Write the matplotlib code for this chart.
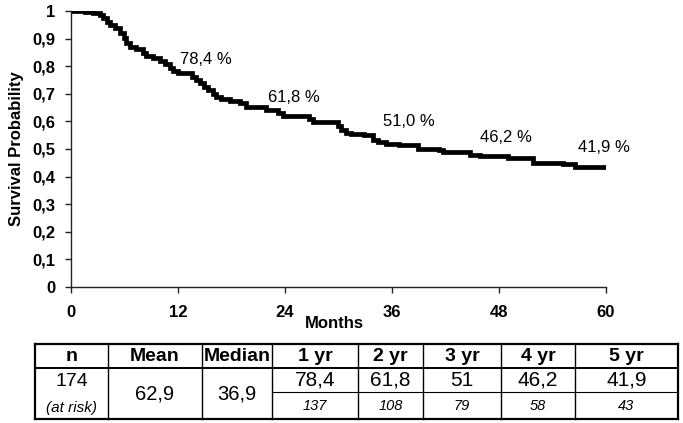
import matplotlib
matplotlib.use("Agg")
import matplotlib.pyplot as plt

plt.rcParams['font.family'] = ['Liberation Sans', 'DejaVu Sans']

#---------------------------------- data ----------------------------------
# Kaplan-Meier step curve (months, survival)
months = [0, 1.57, 2.5, 3.24, 3.6, 4.0, 4.36, 4.92, 5.48, 5.93, 6.22, 6.6,
          7.34, 8.09, 8.46, 9.2, 9.95, 10.5, 11.07, 11.44, 12.0, 13.6, 14.05,
          14.42, 14.87, 15.36, 15.91, 16.29, 16.85, 17.78, 18.9, 19.64, 21.88,
          23.18, 23.74, 26.72, 27.1, 29.89, 30.26, 30.83, 31.39, 32.89, 33.83,
          34.39, 35.33, 36.82, 38.89, 41.32, 41.7, 44.7, 45.82, 49.01, 51.82,
          55.2, 56.51, 60.0]
survival = [1.0, 0.996, 0.992, 0.985, 0.973, 0.961, 0.949, 0.937, 0.919, 0.901,
            0.883, 0.871, 0.861, 0.849, 0.837, 0.828, 0.819, 0.808, 0.794, 0.784,
            0.774, 0.762, 0.750, 0.738, 0.726, 0.713, 0.701, 0.689, 0.680, 0.675,
            0.665, 0.653, 0.641, 0.631, 0.619, 0.607, 0.599, 0.582, 0.570, 0.558,
            0.555, 0.549, 0.531, 0.525, 0.519, 0.515, 0.501, 0.495, 0.489, 0.480,
            0.475, 0.468, 0.450, 0.444, 0.434, 0.434]

ann_text = ['78,4 %', '61,8 %', '51,0 %', '46,2 %', '41,9 %']
ann_x = [12.2, 22.1, 35.0, 45.9, 56.9]
ann_y = [0.826, 0.688, 0.598, 0.543, 0.504]

yticks = [0, 0.1, 0.2, 0.3, 0.4, 0.5, 0.6, 0.7, 0.8, 0.9, 1.0]
ytick_labels = ['0', '0,1', '0,2', '0,3', '0,4', '0,5', '0,6', '0,7', '0,8', '0,9', '1']
xticks = [0, 12, 24, 36, 48, 60]

header = ['n', 'Mean', 'Median', '1 yr', '2 yr', '3 yr', '4 yr', '5 yr']
n_total = '174'
mean_val = '62,9'
median_val = '36,9'
year_surv = ['78,4', '61,8', '51', '46,2', '41,9']
at_risk = ['137', '108', '79', '58', '43']

#---------------------------------- plot ----------------------------------
W, H = 683, 423
fig = plt.figure(figsize=(W / 100, H / 100), dpi=100)

ax = fig.add_axes([71 / W, 1 - 287 / H, (606 - 71) / W, (287 - 11) / H])
ax.step(months, survival, where='post', color='black', lw=3.4, solid_joinstyle='miter')
ax.set_xlim(0, 60)
ax.set_ylim(0, 1)
for s in ['top', 'right']:
    ax.spines[s].set_visible(False)
for s in ['left', 'bottom']:
    ax.spines[s].set_color('#222222')
    ax.spines[s].set_linewidth(1.0)
ax.set_xticks(xticks)
ax.set_xticklabels([str(t) for t in xticks], fontsize=12, fontweight='bold')
ax.set_yticks(yticks)
ax.set_yticklabels(ytick_labels, fontsize=12, fontweight='bold')
ax.tick_params(axis='both', direction='out', length=4, width=1, color='#222222')
ax.tick_params(axis='x', pad=9)
ax.tick_params(axis='y', pad=7)
ax.set_xlabel('Months', fontsize=12, fontweight='bold', labelpad=0)
ax.set_ylabel('Survival Probability', fontsize=12, fontweight='bold', labelpad=6)
ax.xaxis.set_label_coords(0.492, -0.105)

for t, x, y in zip(ann_text, ann_x, ann_y):
    ax.text(x, y, t, fontsize=12, ha='left', va='center')

#---------------------------------- table ---------------------------------
tb = fig.add_axes([0, 0, 1, 1])
tb.set_xlim(0, W)
tb.set_ylim(H, 0)
tb.axis('off')

cols = [35, 108, 202, 272, 358, 423, 501, 575, 678]
top, mid, inner, bot = 344.5, 368, 392, 419

tb.plot([cols[0], cols[-1]], [top, top], color='black', lw=1.6)
tb.plot([cols[0], cols[-1]], [mid, mid], color='black', lw=1.4)
tb.plot([cols[0], cols[-1]], [bot, bot], color='black', lw=1.6)
tb.plot([cols[3], cols[-1]], [inner, inner], color='black', lw=0.8)
for i, c in enumerate(cols):
    lw = 1.6 if i in (0, len(cols) - 1) else 1.0
    tb.plot([c, c], [top, bot], color='black', lw=lw)

centers = [(cols[i] + cols[i + 1]) / 2 for i in range(len(cols) - 1)]
for cx, h in zip(centers, header):
    tb.text(cx, 356.5, h, fontsize=14, fontweight='bold', ha='center', va='center')

tb.text(centers[0], 381, n_total, fontsize=14, ha='center', va='center')
tb.text(centers[0], 408, '(at risk)', fontsize=11, style='italic', ha='center', va='center')
tb.text(centers[1], 394, mean_val, fontsize=14.5, ha='center', va='center')
tb.text(centers[2], 394, median_val, fontsize=14.5, ha='center', va='center')
for cx, v, r in zip(centers[3:], year_surv, at_risk):
    tb.text(cx, 380.5, v, fontsize=15, ha='center', va='center')
    tb.text(cx, 406, r, fontsize=10.5, style='italic', ha='center', va='center')

fig.savefig('out.png', dpi=100)
